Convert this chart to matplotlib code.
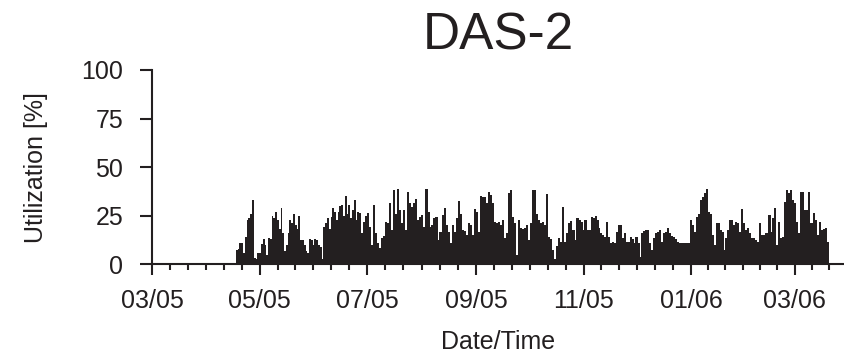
import numpy as np
import pandas as pd
import matplotlib
matplotlib.use('Agg')
import matplotlib.pyplot as plt
import matplotlib.dates as mdates

plt.rcParams['font.family'] = ['Liberation Sans', 'DejaVu Sans']

# tiny blips while the cluster was still idle
idle_dates = ['2005-03-16', '2005-04-15']
idle_util = [0.8, 0.8]

# utilization [%], in three stretches
spring_span = ('2005-04-18', '2005-06-26')
spring_util = [7.4, 8, 11, 11, 5.6, 14, 23, 24, 26, 33, 3, 2.5, 6, 6, 10.5, 13, 10, 5,
               13.4, 13, 25, 24, 27, 23, 18, 29, 16, 7, 10, 16, 23, 21, 26, 20, 18, 25,
               12.5, 12.5, 10, 7, 5.6, 13, 12.5, 10, 13, 12.5, 10, 9, 2.5, 19, 21, 24,
               18, 24.5, 29, 27, 23, 27, 30, 30.5, 25, 35, 26, 30.5, 24, 28, 33, 23, 27]

summer_span = ('2005-06-27', '2005-11-09')
summer_util = [26.6, 16, 22, 25, 26.6, 19, 10, 30.5, 16, 11, 8.6, 13.4, 14.6, 21.6, 21,
               31.4, 17.7, 38, 26, 38.6, 28, 21, 28, 17.7, 37, 31.4, 29.7, 31.4, 33.4,
               22.8, 24.5, 25.4, 19, 39, 27, 19.4, 20, 23.7, 24.5, 12.5, 16.8, 25.4, 28.8,
               20, 16.8, 10.8, 20, 16.8, 23.7, 32.8, 26, 17.7, 17.3, 15, 21, 20, 15, 28.3,
               27, 16.8, 35, 34.8, 34.8, 31.7, 37.4, 35.7, 31.4, 22, 21, 22, 20, 23, 13.4,
               16, 36.5, 38, 24.5, 21, 4.8, 22.8, 18.5, 18, 18.5, 20, 12.5, 21.4, 38, 38,
               26, 22.8, 21, 22, 20, 36, 14, 12.9, 7.4, 2.6, 9.4, 13.4, 11.7, 29.7, 11.7,
               16, 21, 22.5, 17.7, 12.5, 23.7, 22.8, 22, 17.7, 22.8, 17.7, 17.7, 24.5,
               23.7, 25, 22.8]

winter_span = ('2005-11-10', '2006-03-20')
winter_util = [18.5, 16, 15, 14, 22, 14, 11, 11.7, 11, 16.8, 20, 20, 13.4, 16.3, 11.7,
               11.7, 14, 12.9, 11, 14, 10.8, 4, 16, 17, 17.7, 17.7, 10.8, 7.4, 13.4, 16,
               16.8, 17.7, 11.7, 16, 16.8, 18.5, 16, 14.6, 14, 12.9, 11.7, 11, 11, 11, 11,
               11, 11, 22.8, 20, 16.8, 24.5, 26, 33, 34.8, 36.5, 39, 27, 26, 15, 10, 21.4,
               21.4, 17.7, 16.8, 7.4, 13.4, 17.7, 23, 22.8, 20, 22, 21, 16.8, 28.3, 21,
               17.7, 18.5, 16, 13.4, 13.4, 12.5, 11.7, 21, 15, 15, 16, 16.3, 25.4, 16.8,
               23.7, 28.8, 10, 22, 13.4, 14, 32, 38, 36.5, 38, 33, 31.4, 22, 16, 37.4,
               37.4, 28, 28, 37, 21, 21, 26.6, 22.8, 15, 22, 17.7, 18, 18.5, 11.7]

ink = '#231f20'

fig = plt.figure(figsize=(8.44, 3.53), dpi=100)
ax = fig.add_axes([0.1805, 0.2513, 0.8195, 0.5504])

for span, vals in [(spring_span, spring_util), (summer_span, summer_util), (winter_span, winter_util)]:
    days = pd.date_range(span[0], span[1], periods=len(vals))
    step = (days[1] - days[0]).total_seconds() / 86400
    ax.bar(days, vals, width=step * 1.05, color=ink, linewidth=0)
ax.bar(pd.to_datetime(idle_dates), idle_util, width=1, color=ink, linewidth=0)

ax.set_xlim(pd.Timestamp('2005-03-01'), pd.Timestamp('2006-03-29'))
ax.set_ylim(0, 100)
ax.set_yticks([0, 25, 50, 75, 100])

major = pd.date_range('2005-03-01', '2006-03-01', freq='2MS')
ax.set_xticks(major)
ax.xaxis.set_major_formatter(mdates.DateFormatter('%m/%y'))
nums = mdates.date2num(major)
minor = []
for a, b in zip(nums[:-1], nums[1:]):
    minor += list(np.linspace(a, b, 7)[1:-1])
gap = (nums[-1] - nums[-2]) / 6
minor += [nums[-1] + gap, nums[-1] + 2 * gap]
ax.set_xticks(minor, minor=True)

for s in ['top', 'right']:
    ax.spines[s].set_visible(False)
for s in ['left', 'bottom']:
    ax.spines[s].set_linewidth(1.5)
    ax.spines[s].set_color(ink)

ax.tick_params(axis='x', which='major', length=7.7, width=1.5, pad=10, labelsize=18,
               color=ink, labelcolor=ink)
ax.tick_params(axis='x', which='minor', length=4, width=1.5, color=ink)
ax.tick_params(axis='y', length=8.9, width=1.5, pad=12, labelsize=18, color=ink, labelcolor=ink)

ax.set_title('DAS-2', fontsize=37, pad=15, color=ink)
ax.set_xlabel('Date/Time', fontsize=18, labelpad=12, color=ink)
ax.set_ylabel('Utilization [%]', fontsize=18, labelpad=24, color=ink)

fig.savefig('out.png', dpi=100)
